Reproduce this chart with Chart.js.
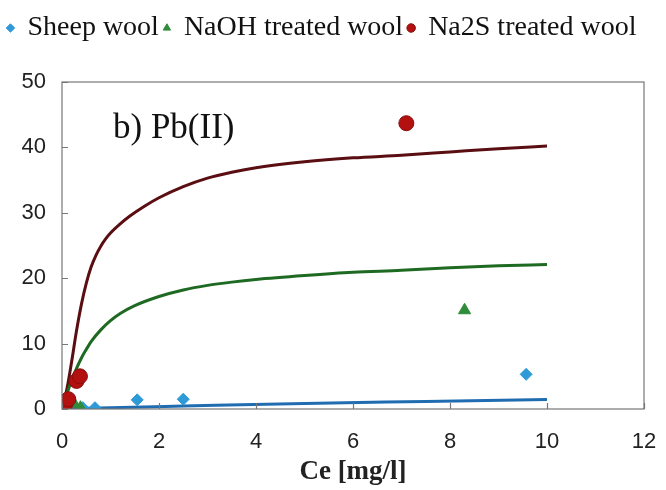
<!DOCTYPE html>
<html>
<head>
<meta charset="utf-8">
<style>
  html, body { margin: 0; padding: 0; background: #fff; }
  #wrap { width: 666px; height: 490px; }
</style>
<script src="https://cdn.jsdelivr.net/npm/chart.js@4/dist/chart.umd.min.js"></script>
</head>
<body>
<div id="wrap"><canvas id="c" width="666" height="490"></canvas></div>
<script>
// Measured points
const sheepX = [0.05, 0.43, 0.68, 1.55, 2.5, 9.57];
const sheepY = [0.1, 0.2, 0.2, 1.4, 1.5, 5.3];
const naohX = [0.03, 0.12, 0.25, 0.38, 8.3];
const naohY = [0.2, 1.5, 0.8, 0.2, 15.1];
const na2sX = [0.02, 0.07, 0.13, 0.3, 0.37, 7.1];
const na2sY = [0.3, 0.8, 1.5, 4.3, 5.0, 43.7];

// Fitted curves
const sheepFitX = [0, 1, 2.5, 5, 7.5, 10];
const sheepFitY = [0, 0.2, 0.45, 0.85, 1.15, 1.45];
const naohFitX = [0, 0.1, 0.2, 0.3, 0.4, 0.5, 0.6, 0.8, 1.0, 1.2, 1.5, 2.0, 2.5, 3.0, 3.5, 4.0, 5.0, 6.0, 7.0, 8.0, 9.0, 10];
const naohFitY = [0, 2.3, 4.4, 6.2, 7.8, 9.1, 10.3, 12.1, 13.5, 14.6, 15.8, 17.2, 18.2, 18.9, 19.4, 19.8, 20.4, 20.9, 21.2, 21.6, 21.9, 22.1];
const na2sFitX = [0, 0.1, 0.2, 0.3, 0.4, 0.5, 0.6, 0.7, 0.8, 0.9, 1.0, 1.2, 1.4, 1.7, 2.0, 2.5, 3.0, 3.5, 4.0, 5.0, 6.0, 7.0, 8.0, 9.0, 10];
const na2sFitY = [0, 3.0, 7.3, 12.0, 16.0, 19.2, 21.7, 23.5, 24.9, 26.0, 26.9, 28.3, 29.5, 31.0, 32.3, 34.0, 35.3, 36.2, 36.9, 37.8, 38.4, 38.8, 39.3, 39.8, 40.2];

const xTicks = [0, 2, 4, 6, 8, 10, 12];
const yTicks = [0, 10, 20, 30, 40, 50];

const seriesNames = ['Sheep wool', 'NaOH treated wool', 'Na2S treated wool'];
const axisTitleX = 'Ce [mg/l]';
const panelLabel = 'b) Pb(II)';

const pts = (xs, ys) => xs.map((x, i) => ({ x: x, y: ys[i] }));

const lineDs = (name, xs, ys, color) => ({
  type: 'line', label: name + ' fit', data: pts(xs, ys), borderColor: color,
  borderWidth: 3, pointRadius: 0, fill: false, cubicInterpolationMode: 'monotone',
  showLine: true, order: 5
});

const inwardTicks = {
  id: 'inwardTicks',
  afterDraw(chart) {
    const ctx = chart.ctx, a = chart.chartArea;
    const xs = chart.scales.x, ys = chart.scales.y;
    ctx.save();
    ctx.strokeStyle = '#777';
    ctx.lineWidth = 1.2;
    ctx.beginPath();
    yTicks.forEach(v => { const p = Math.round(ys.getPixelForValue(v)) + 0.5; ctx.moveTo(a.left, p); ctx.lineTo(a.left + 6, p); });
    xTicks.forEach(v => { const p = Math.round(xs.getPixelForValue(v)) + 0.5; ctx.moveTo(p, a.bottom); ctx.lineTo(p, a.bottom - 6); });
    ctx.stroke();
    ctx.strokeRect(a.left, a.top, a.right - a.left, a.bottom - a.top);
    ctx.fillStyle = '#111';
    ctx.font = '35px "Liberation Serif"';
    ctx.textBaseline = 'alphabetic';
    ctx.fillText(panelLabel, a.left + 51, a.top + 56);
    ctx.restore();
  }
};

new Chart(document.getElementById('c'), {
  type: 'scatter',
  data: {
    datasets: [
      lineDs(seriesNames[0], sheepFitX, sheepFitY, '#1F6CB0'),
      lineDs(seriesNames[1], naohFitX, naohFitY, '#1E6A22'),
      lineDs(seriesNames[2], na2sFitX, na2sFitY, '#5A0E12'),
      { label: seriesNames[0], data: pts(sheepX, sheepY), pointStyle: 'rectRot', pointRadius: 6,
        backgroundColor: '#2E9AD8', borderColor: '#2E9AD8', order: 3 },
      { label: seriesNames[1], data: pts(naohX, naohY), pointStyle: 'triangle', pointRadius: 7,
        backgroundColor: '#2F8C3A', borderColor: '#2F8C3A', order: 2 },
      { label: seriesNames[2], data: pts(na2sX, na2sY), pointStyle: 'circle', pointRadius: 7.5,
        backgroundColor: '#B3110F', borderColor: '#8A0C0C', borderWidth: 1, order: 1 }
    ]
  },
  options: {
    responsive: false,
    animation: false,
    layout: { padding: { left: 0, right: 22, top: 9, bottom: 0 } },
    plugins: {
      legend: {
        position: 'top',
        align: 'center',
        labels: {
          filter: item => !item.text.endsWith(' fit'),
          sort: (a, b) => a.datasetIndex - b.datasetIndex,
          usePointStyle: true,
          boxWidth: 6, boxHeight: 6,
          padding: 5,
          color: '#111',
          font: { family: '"Liberation Serif"', size: 28 }
        }
      },
      title: {
        display: true, text: ' ', weight: 500, position: 'top',
        font: { size: 10 }, padding: { top: 0, bottom: 18 }
      },
      tooltip: { enabled: false }
    },
    scales: {
      x: {
        type: 'linear', min: 0, max: 12,
        afterBuildTicks: s => { s.ticks = xTicks.map(v => ({ value: v })); },
        grid: { display: false, drawTicks: false },
        border: { display: false },
        ticks: { color: '#222', font: { family: '"Liberation Sans"', size: 22 }, padding: 20 },
        title: { display: true, text: axisTitleX, color: '#222',
          font: { family: '"Liberation Serif"', size: 27, weight: 'bold' }, padding: { top: 4, bottom: 2 } },
        afterFit: s => { s.height = 81; s.paddingRight = 0; s.paddingLeft = 0; }
      },
      y: {
        type: 'linear', min: 0, max: 50,
        afterBuildTicks: s => { s.ticks = yTicks.map(v => ({ value: v })); },
        grid: { display: false, drawTicks: false },
        border: { display: false },
        ticks: { color: '#222', font: { family: '"Liberation Sans"', size: 22 }, padding: 16 },
        afterFit: s => { s.width = 62; }
      }
    }
  },
  plugins: [inwardTicks]
});
</script>
</body>
</html>
